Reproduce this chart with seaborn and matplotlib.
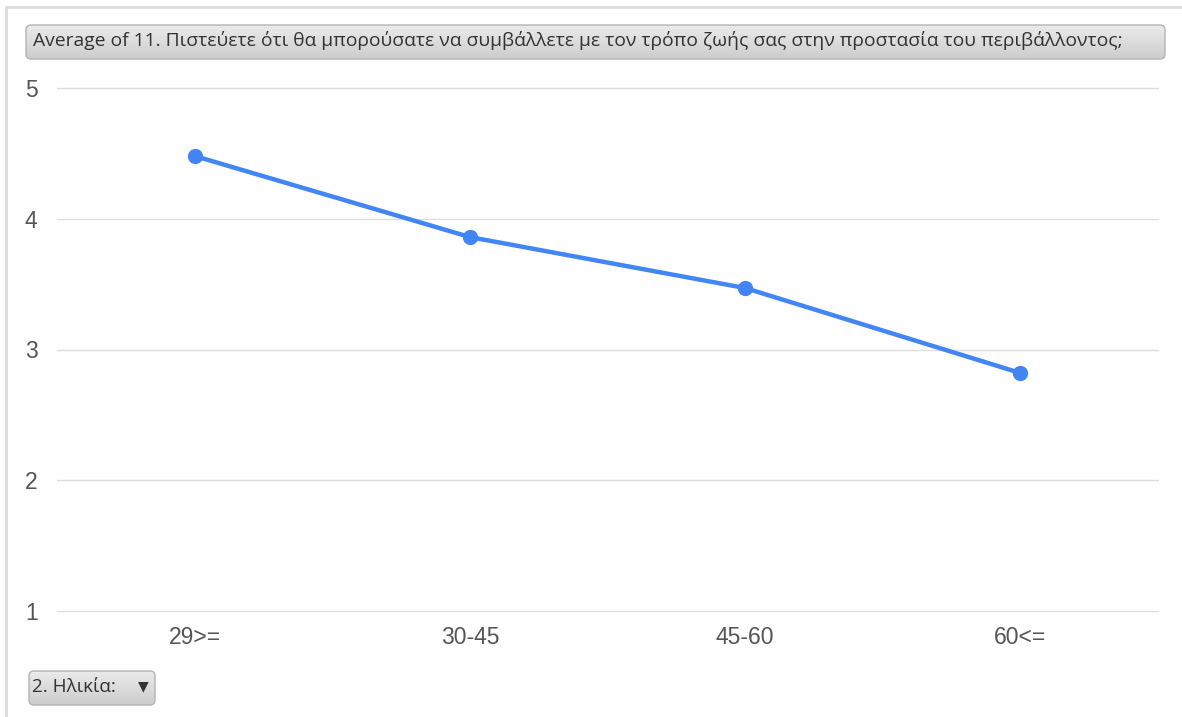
import numpy as np
import matplotlib
matplotlib.use("Agg")
import matplotlib.pyplot as plt
from matplotlib.patches import FancyBboxPatch
from matplotlib.lines import Line2D
import seaborn as sns

# Average answer per age group
age_groups = ["29>=", "30-45", "45-60", "60<="]
avg_scores = [4.48, 3.86, 3.47, 2.82]
y_ticks = [1, 2, 3, 4, 5]

title_text = ("Average of 11. Πιστεύετε ότι θα μπορούσατε να συμβάλλετε "
              "με τον τρόπο ζωής σας στην προστασία του περιβάλλοντος;")
field_text = "2. Ηλικία:"

sns.set_theme(style="white")
plt.rcParams["font.family"] = ["Liberation Sans", "DejaVu Sans"]

W, H = 1182, 717
fig = plt.figure(figsize=(W / 100, H / 100), dpi=100)
fig.patch.set_facecolor("white")


def fx(px):
    return px / W


def fy(py):
    return 1 - py / H


# outer frame edges (left and top)
fig.add_artist(Line2D([fx(6), fx(6)], [fy(7), 0], transform=fig.transFigure,
                      color="#dcdcdc", lw=2))
fig.add_artist(Line2D([fx(6), 1], [fy(7), fy(7)], transform=fig.transFigure,
                      color="#dcdcdc", lw=2))

# plot area
ax = fig.add_axes([fx(57), fy(611), fx(1158) - fx(57), fy(88) - fy(611)])
df_x = np.arange(len(age_groups))
sns.lineplot(x=df_x, y=avg_scores, ax=ax, color="#4285f4", lw=3.2,
             marker="o", markersize=11, markeredgewidth=0, zorder=3)
ax.set_xlim(-0.5, len(age_groups) - 0.5)
ax.set_ylim(1, 5)
ax.set_xticks(df_x)
ax.set_xticklabels(age_groups)
ax.set_yticks(y_ticks)
ax.set_yticklabels([str(t) for t in y_ticks])
for s in ax.spines.values():
    s.set_visible(False)
ax.grid(axis="y", color="#dedede", lw=1)
ax.grid(axis="x", visible=False)
for gl in ax.get_ygridlines():
    gl.set_clip_on(False)
ax.set_axisbelow(True)
ax.tick_params(axis="both", length=0, labelsize=16.5, colors="#555555")
ax.tick_params(axis="y", pad=14)
ax.tick_params(axis="x", pad=11)
ax.set_xlabel("")
ax.set_ylabel("")


def button(x0, y0, x1, y1, text, fontsize, text_pad, arrow=False):
    bax = fig.add_axes([fx(x0), fy(y1), fx(x1) - fx(x0), fy(y0) - fy(y1)])
    bax.set_xlim(0, x1 - x0)
    bax.set_ylim(0, y1 - y0)
    bax.axis("off")
    w, h = x1 - x0, y1 - y0
    grad = np.linspace(0, 1, 64).reshape(-1, 1)
    top, bot = np.array([0.925, 0.925, 0.925]), np.array([0.80, 0.80, 0.80])
    img = top + (bot - top) * grad[..., None] * np.ones((1, 2, 1))
    im = bax.imshow(img, extent=(0, w, 0, h), origin="upper", aspect="auto")
    shape = FancyBboxPatch((1, 1), w - 2, h - 2,
                           boxstyle="round,pad=0,rounding_size=5",
                           fc="none", ec="#b4b4b4", lw=1)
    bax.add_patch(shape)
    im.set_clip_path(shape)
    bax.text(text_pad, h / 2 + 1, text, ha="left", va="center",
             fontsize=fontsize, color="#333333",
             family=["Open Sans", "DejaVu Sans"])
    if arrow:
        bax.text(w - 13, h / 2 + 2, "▼", ha="center", va="center",
                 fontsize=10, color="#333333", family=["DejaVu Sans"])
    return bax


button(25, 24, 1166, 60, title_text, 13.9, 8)
button(28, 670, 156, 706, field_text, 13.6, 4, arrow=True)

fig.savefig("out.png", dpi=100, facecolor="white")
